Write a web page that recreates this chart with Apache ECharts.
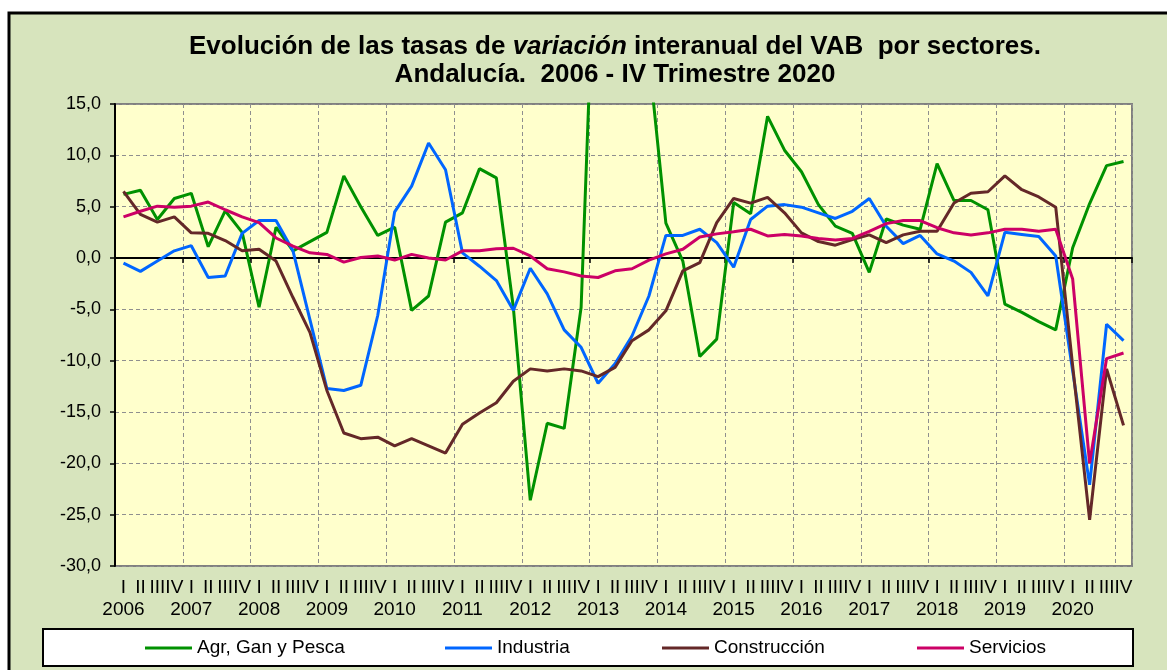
<!DOCTYPE html>
<html>
<head>
<meta charset="UTF-8">
<title>VAB Andalucía por sectores</title>
<style type="text/css">
   html, body{
      margin:0;
      padding:0;
      background-color:#ffffff;
   }
   #container{
      width:1167px;
      height:670px;
   }
</style>
</head>
<body>
<div id="container"></div>
<script src="https://cdn.jsdelivr.net/npm/echarts@6/dist/echarts.min.js"></script>
<script type="text/javascript">
// datos (tasas de variacion interanual, %)
var years = ['2006','2007','2008','2009','2010','2011','2012','2013','2014','2015','2016','2017','2018','2019','2020'];
var quarters = ['I','II','III','IV'];
var yTicks = [-30, -25, -20, -15, -10, -5, 0, 5, 10, 15];

var agr = [6.2, 6.6, 3.75, 5.8, 6.3, 1.1, 4.6, 2.5, -4.8, 3.0, 0.7, 1.6, 2.5, 8.0, 5.0, 2.2,
           3.0, -5.1, -3.7, 3.5, 4.4, 8.7, 7.8, -4.8, -23.6, -16.1, -16.6, -4.8, 40.0, 37.0, 31.0, 19.5,
           3.4, -0.3, -9.6, -7.9, 5.4, 4.3, 13.8, 10.5, 8.4, 5.2, 3.1, 2.4, -1.4, 3.8, 3.2, 2.8,
           9.2, 5.6, 5.6, 4.7, -4.5, -5.3, -6.2, -7.0, 1.0, 5.3, 9.0, 9.4];
var industria = [-0.5, -1.3, -0.3, 0.7, 1.2, -1.9, -1.75, 2.4, 3.65, 3.65, 0.7, -6.0, -12.7, -12.9, -12.4, -5.6,
           4.5, 7.0, 11.2, 8.6, 0.5, -0.8, -2.2, -5.1, -1.0, -3.5, -7.0, -8.7, -12.2, -10.3, -7.6, -3.7,
           2.2, 2.2, 2.8, 1.5, -0.9, 3.75, 5.05, 5.2, 4.95, 4.4, 3.85, 4.55, 5.8, 3.1, 1.4, 2.2,
           0.4, -0.3, -1.4, -3.7, 2.5, 2.3, 2.1, 0.2, -11.0, -22.1, -6.45, -8.05];
var construccion = [6.5, 4.25, 3.5, 4.0, 2.45, 2.4, 1.7, 0.7, 0.85, -0.3, -3.85, -7.25, -12.9, -17.05, -17.6, -17.45,
           -18.3, -17.6, -18.3, -19.0, -16.2, -15.1, -14.1, -12.0, -10.8, -11.0, -10.8, -11.0, -11.55, -10.65, -8.05, -7.0,
           -5.15, -1.25, -0.45, 3.45, 5.8, 5.35, 5.9, 4.4, 2.45, 1.6, 1.25, 1.8, 2.25, 1.5, 2.25, 2.6,
           2.6, 5.35, 6.3, 6.45, 8.0, 6.65, 5.95, 4.95, -10.5, -25.5, -10.8, -16.3];
var servicios = [4.0, 4.55, 5.05, 4.95, 5.05, 5.45, 4.7, 4.0, 3.45, 1.95, 1.15, 0.5, 0.35, -0.4, 0.05, 0.2,
           -0.2, 0.35, 0.0, -0.2, 0.7, 0.7, 0.9, 0.95, 0.2, -1.05, -1.35, -1.75, -1.9, -1.25, -1.05, -0.2,
           0.4, 0.85, 2.05, 2.35, 2.55, 2.8, 2.15, 2.3, 2.15, 1.9, 1.75, 1.9, 2.6, 3.35, 3.65, 3.65,
           2.95, 2.45, 2.25, 2.45, 2.8, 2.8, 2.6, 2.8, -2.05, -20.0, -9.8, -9.25];

var seriesNames = ['Agr, Gan y Pesca', 'Industria', 'Construcción', 'Servicios'];
var seriesData = [agr, industria, construccion, servicios];
var colors = ['#009100', '#0066FF', '#642828', '#CC0066'];

// etiquetas: trimestre y, bajo el primero, el año
var cats = [];
for (var y = 0; y < years.length; y++) {
    for (var q = 0; q < quarters.length; q++) {
        cats.push(q == 0 ? quarters[q] + '\n' + years[y] : quarters[q]);
    }
}

var FONT = "'Liberation Sans', Arial, sans-serif";

var dom = document.getElementById("container");
var myChart = echarts.init(dom, null, {renderer: 'canvas'});

var series = [];
for (var i = 0; i < seriesNames.length; i++) {
    series.push({
        name: seriesNames[i],
        type: 'line',
        data: seriesData[i],
        symbol: 'none',
        clip: true,
        lineStyle: { width: 3, color: colors[i] },
        itemStyle: { color: colors[i] },
        z: 3 + i
    });
}

var legendPos = [145, 445, 662, 917];
var legends = [];
for (var i = 0; i < seriesNames.length; i++) {
    legends.push({
        data: [seriesNames[i]],
        left: legendPos[i],
        top: 638,
        padding: 0,
        icon: 'rect',
        itemWidth: 47,
        itemHeight: 3,
        selectedMode: false,
        textStyle: { fontFamily: FONT, fontSize: 19, color: '#000', lineHeight: 20 }
    });
}

var option = {
    animation: false,
    backgroundColor: '#ffffff',
    color: colors,
    graphic: [
        {
            type: 'rect', z: -100,
            shape: { x: 9, y: 13, width: 1200, height: 700 },
            style: { fill: '#D7E4BD', stroke: '#000', lineWidth: 3 }
        },
        {
            type: 'rect', z: -90,
            shape: { x: 43, y: 629, width: 1090, height: 37 },
            style: { fill: '#ffffff', stroke: '#000', lineWidth: 2 }
        },
        {
            type: 'text', z: 10,
            x: 615, y: 33,
            style: {
                text: '{b|Evolución de las tasas de }{bi|variación}{b| interanual del VAB  por sectores.}\n{b|Andalucía.  2006 - IV Trimestre 2020}',
                align: 'center',
                verticalAlign: 'top',
                rich: {
                    b: { fontFamily: FONT, fontSize: 26, fontWeight: 'bold', fill: '#000', lineHeight: 28 },
                    bi: { fontFamily: FONT, fontSize: 26, fontWeight: 'bold', fontStyle: 'italic', fill: '#000', lineHeight: 28 }
                }
            }
        }
    ],
    legend: legends,
    grid: {
        left: 115, top: 104, width: 1017, height: 462,
        show: true,
        backgroundColor: '#FFFFCC',
        borderColor: '#808080',
        borderWidth: 2,
        outerBoundsMode: 'none'
    },
    xAxis: [
        {
            type: 'category',
            data: cats,
            boundaryGap: true,
            position: 'bottom',
            axisLine: { show: false, onZero: false },
            axisTick: { show: false },
            splitLine: { show: true, interval: 3, lineStyle: { color: '#8f8f8f', width: 1, type: [4, 3] } },
            axisLabel: {
                interval: 0,
                margin: 11,
                fontFamily: FONT,
                fontSize: 19,
                lineHeight: 22,
                color: '#000'
            }
        },
        {
            type: 'category',
            data: cats,
            boundaryGap: true,
            position: 'bottom',
            axisLine: { show: true, onZero: true, lineStyle: { color: '#000', width: 2 } },
            axisTick: { show: true, interval: 3, length: 5, lineStyle: { color: '#000', width: 1.5 } },
            axisLabel: { show: false },
            splitLine: { show: false }
        }
    ],
    yAxis: {
        type: 'value',
        min: yTicks[0],
        max: yTicks[yTicks.length - 1],
        interval: 5,
        axisLine: { show: true, lineStyle: { color: '#000', width: 2 } },
        axisTick: { show: true, length: 5, lineStyle: { color: '#000', width: 1.5 } },
        splitLine: { show: true, lineStyle: { color: '#8f8f8f', width: 1, type: [4, 3] } },
        axisLabel: {
            margin: 14,
            fontFamily: FONT,
            fontSize: 18,
            color: '#000',
            formatter: function (v) { return v.toFixed(1).replace('.', ','); }
        }
    },
    series: series
};

myChart.setOption(option);
</script>
</body>
</html>
